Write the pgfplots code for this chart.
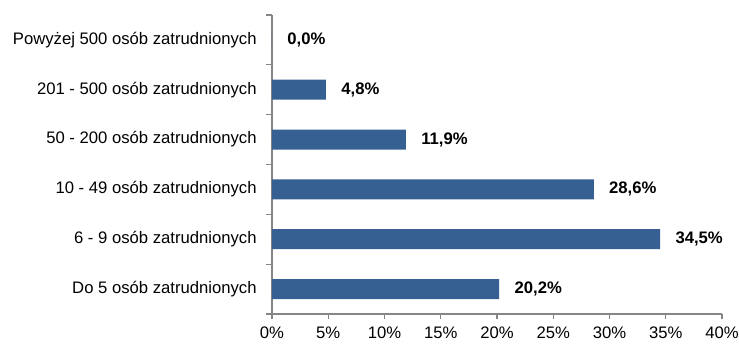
\documentclass[border=0pt]{standalone}
\usepackage{fontspec}
\setmainfont{Liberation Sans}
\usepackage{pgfplots}
\pgfplotsset{compat=1.18}
\definecolor{barblue}{RGB}{55,96,146}
\definecolor{axgray}{RGB}{134,134,134}
\begin{document}
\begin{tikzpicture}
\useasboundingbox (-204pt,-23.25pt) rectangle (350.25pt,235.5pt);
\begin{axis}[
  at={(0pt,0pt)}, anchor=south west,
  scale only axis,
  width=337.5pt, height=224.25pt,
  xbar, bar width=15pt,
  xmin=0, xmax=40,
  ymin=-0.5, ymax=5.5,
  axis x line*=bottom, axis y line*=left,
  axis line style={axgray, line width=0.8pt},
  xtick={0,5,...,40},
  xticklabels={0\%,5\%,10\%,15\%,20\%,25\%,30\%,35\%,40\%},
  ytick={0,...,5},
  yticklabels={Do 5 osób zatrudnionych,6 - 9 osób zatrudnionych,10 - 49 osób zatrudnionych,50 - 200 osób zatrudnionych,201 - 500 osób zatrudnionych,Powyżej 500 osób zatrudnionych},
  minor ytick={-0.5,0.5,...,5.5},
  tick align=outside,
  major tick length=4pt,
  y tick style={draw=none},
  minor y tick style={draw=axgray, line width=0.8pt},
  minor tick length=4.5pt,
  x tick style={axgray, line width=0.8pt},
  tick label style={font=\fontsize{12.5pt}{14pt}\selectfont, text=black},
  yticklabel style={xshift=-4pt},
  xticklabel style={yshift=-2pt},
  point meta=explicit symbolic,
  nodes near coords,
  nodes near coords style={anchor=west, xshift=8pt, font=\fontsize{12.5pt}{14pt}\selectfont\bfseries, text=black},
]
\addplot[fill=barblue, draw=none] coordinates {
  (20.2,0) [20,2\%]
  (34.5,1) [34,5\%]
  (28.6,2) [28,6\%]
  (11.9,3) [11,9\%]
  (4.8,4) [4,8\%]
  (0.0,5) [0,0\%]
};
\end{axis}
\end{tikzpicture}
\end{document}
